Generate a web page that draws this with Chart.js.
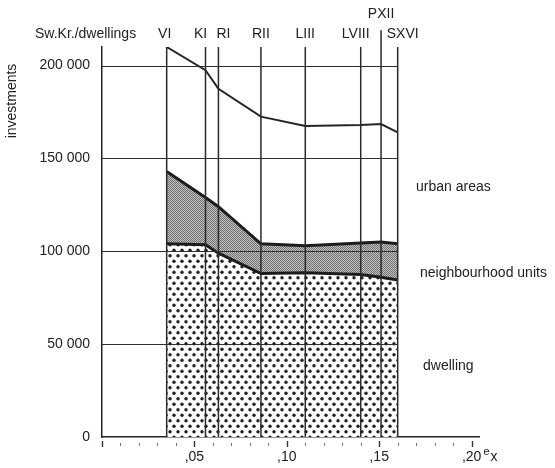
<!DOCTYPE html>
<html>
<head>
<meta charset="utf-8">
<script src="https://cdn.jsdelivr.net/npm/chart.js@4.4.1/dist/chart.umd.min.js"></script>
<style>
  html, body { margin: 0; padding: 0; background: #fff; }
</style>
</head>
<body>
<canvas id="chart" width="555" height="468"></canvas>
<script>
// plans along the top and where each sits on the e_x axis
const plans = ['VI', 'KI', 'RI', 'RII', 'LIII', 'LVIII', 'PXII', 'SXVI'];
const planEx = [0.035, 0.056, 0.063, 0.086, 0.110, 0.140, 0.151, 0.160];

// investment per dwelling (Sw.Kr.), in three layers
const dwelling      = [104000, 103500, 99000, 88000, 88500, 87500, 86000, 84500];
const neighbourhood = [39000, 25500, 25000, 16000, 14500, 17000, 19000, 19500];
const urbanAreas    = [67000, 68500, 63500, 68500, 64500, 63500, 63500, 60000];

const yTicks = [0, 50000, 100000, 150000, 200000];
const yTickLabels = ['0', '50 000', '100 000', '150 000', '200 000'];
const xTicks = [0.05, 0.10, 0.15, 0.20];
const xTickLabels = [',05', ',10', ',15', ',20'];
const xMinorStep = 0.01;

// label placement tweaks for the crowded plan names
const labelNudge = [-2, -5, 5, 0, 0, -5, 0, 5];
const labelRaised = [false, false, false, false, false, false, true, false];
const lineTop = 210000, raisedLineTop = 219000;

const FONT = "'Liberation Sans', Arial, sans-serif";
const INK = '#222';

// stacked levels
const levelNeigh = dwelling.map((v, i) => v + neighbourhood[i]);
const levelTotal = levelNeigh.map((v, i) => v + urbanAreas[i]);
const pts = arr => planEx.map((x, i) => ({ x, y: arr[i] }));

const planLines = [];
planEx.forEach((x, i) => {
  planLines.push({ x, y: 0 }, { x, y: labelRaised[i] ? raisedLineTop : lineTop }, { x, y: null });
});

function dotPattern() {
  const c = document.createElement('canvas');
  c.width = 8; c.height = 11;
  const g = c.getContext('2d');
  g.fillStyle = '#fff';
  g.fillRect(0, 0, 8, 11);
  g.fillStyle = '#222';
  [[2, 2.75], [6, 8.25]].forEach(([x, y]) => {
    g.beginPath(); g.arc(x, y, 1.7, 0, Math.PI * 2); g.fill();
  });
  return g.createPattern(c, 'repeat');
}

function greyPattern() {
  const c = document.createElement('canvas');
  c.width = 2; c.height = 2;
  const g = c.getContext('2d');
  g.fillStyle = '#c0c0c0';
  g.fillRect(0, 0, 2, 2);
  g.fillStyle = '#737373';
  g.fillRect(0, 0, 1, 1);
  g.fillRect(1, 1, 1, 1);
  return g.createPattern(c, 'repeat');
}

// rules, small axis marks and all the loose text
const decor = {
  id: 'decor',
  afterDatasetsDraw(chart) {
    const { ctx, scales: { x, y } } = chart;
    ctx.save();

    const xEnd = x.getPixelForValue(planEx[planEx.length - 1]);
    ctx.strokeStyle = '#2e2e2e';
    ctx.lineWidth = 1.2;
    yTicks.slice(1).forEach(v => {
      const py = Math.round(y.getPixelForValue(v)) + 0.5;
      ctx.beginPath(); ctx.moveTo(x.left, py); ctx.lineTo(xEnd, py); ctx.stroke();
    });

    const base = y.getPixelForValue(0);
    for (let i = 0; i <= 20; i++) {
      const px = Math.round(x.getPixelForValue(i * xMinorStep)) + 0.5;
      const major = i % 5 === 0;
      ctx.strokeStyle = major ? '#333' : '#777';
      ctx.lineWidth = major ? 1.4 : 1;
      ctx.beginPath();
      ctx.moveTo(px, base + (major ? 4 : 6));
      ctx.lineTo(px, base + (major ? 10 : 9));
      ctx.stroke();
    }

    ctx.fillStyle = INK;
    ctx.font = '14px ' + FONT;
    ctx.textBaseline = 'alphabetic';
    ctx.textAlign = 'left';
    ctx.fillText('Sw.Kr./dwellings', 35, 38);

    ctx.textAlign = 'center';
    plans.forEach((p, i) => {
      const px = x.getPixelForValue(planEx[i]) + labelNudge[i];
      ctx.fillText(p, px, labelRaised[i] ? 18 : 38);
    });

    ctx.textAlign = 'left';
    ctx.fillText('urban areas', 416, 191);
    ctx.fillText('neighbourhood units', 420, 277);
    ctx.fillText('dwelling', 423, 370);

    const x20 = x.getPixelForValue(0.20);
    ctx.font = '11px ' + FONT;
    ctx.fillText('e', x20 + 12, 455);
    ctx.font = '14px ' + FONT;
    ctx.fillText('x', x20 + 19, 461);

    ctx.translate(12, 101);
    ctx.rotate(-Math.PI / 2);
    ctx.textAlign = 'center';
    ctx.textBaseline = 'middle';
    ctx.font = '14px ' + FONT;
    ctx.fillText('investments', 0, 0);

    ctx.restore();
  }
};

new Chart(document.getElementById('chart'), {
  type: 'line',
  data: {
    datasets: [
      { label: 'dwelling', data: pts(dwelling), fill: 'origin',
        backgroundColor: dotPattern(), borderColor: '#1c1c1c', borderWidth: 3 },
      { label: 'neighbourhood units', data: pts(levelNeigh), fill: '-1',
        backgroundColor: greyPattern(), borderColor: '#1c1c1c', borderWidth: 3 },
      { label: 'urban areas', data: pts(levelTotal), fill: false,
        borderColor: '#262626', borderWidth: 2 },
      { label: 'plans', data: planLines, fill: false, order: -1, clip: false,
        borderColor: '#2a2a2a', borderWidth: 1.5 }
    ]
  },
  options: {
    responsive: false,
    animation: false,
    layout: { padding: { top: 47, right: 76, left: 0, bottom: 0 } },
    elements: { point: { radius: 0 }, line: { tension: 0 } },
    plugins: { legend: { display: false }, tooltip: { enabled: false } },
    scales: {
      x: {
        type: 'linear', min: 0, max: 0.204,
        afterFit: s => { s.height = 31; },
        afterBuildTicks: s => { s.ticks = xTicks.map(v => ({ value: v })); },
        grid: { display: false, drawTicks: false },
        border: { display: true, color: '#222', width: 1.5 },
        ticks: { padding: 12, color: INK, maxRotation: 0, autoSkip: false,
                 font: { family: FONT, size: 14 },
                 callback: (v, i) => xTickLabels[i] }
      },
      y: {
        min: 0, max: 210000,
        afterFit: s => { s.width = 102; },
        afterBuildTicks: s => { s.ticks = yTicks.map(v => ({ value: v })); },
        grid: { display: false, drawTicks: false },
        border: { display: true, color: '#222', width: 1.5 },
        ticks: { padding: 12, color: INK,
                 font: { family: FONT, size: 14 },
                 callback: (v, i) => yTickLabels[i] }
      }
    }
  },
  plugins: [decor]
});
</script>
</body>
</html>
